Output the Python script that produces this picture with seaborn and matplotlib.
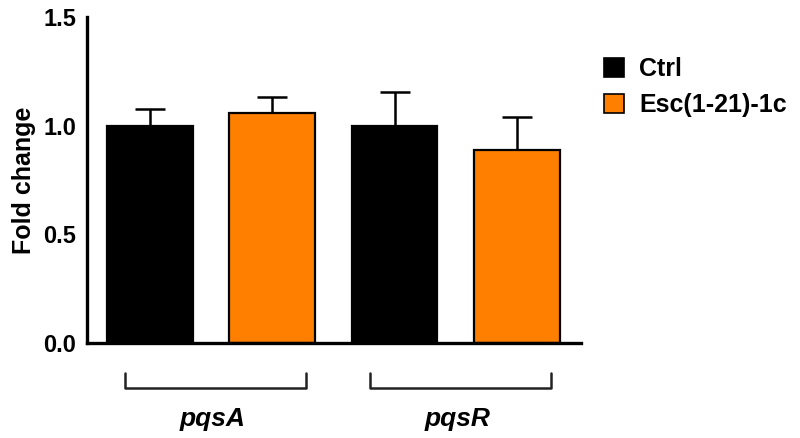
import matplotlib
matplotlib.use("Agg")
import matplotlib.pyplot as plt
import seaborn as sns
import pandas as pd

sns.set_theme(style="white")
plt.rcParams["font.family"] = ["Liberation Sans", "DejaVu Sans"]
plt.rcParams["font.weight"] = "bold"
plt.rcParams["text.color"] = "black"
plt.rcParams["axes.labelcolor"] = "black"

genes = ["pqsA", "pqsA", "pqsR", "pqsR"]
conditions = ["Ctrl", "Esc(1-21)-1c", "Ctrl", "Esc(1-21)-1c"]
fold_change = [1.00, 1.06, 1.00, 0.89]
sem = [0.075, 0.07, 0.155, 0.15]
gene_labels = ["pqsA", "pqsR"]
palette = {"Ctrl": "#000000", "Esc(1-21)-1c": "#ff8000"}

df = pd.DataFrame({
    "slot": [f"{g}_{c}" for g, c in zip(genes, conditions)],
    "condition": conditions,
    "fold": fold_change,
})

fig = plt.figure(figsize=(8, 4.38), dpi=100)
ax = fig.add_axes([0.109, 0.217, 0.617, 0.744])

sns.barplot(
    data=df,
    x="slot",
    y="fold",
    hue="condition",
    palette=palette,
    saturation=1,
    dodge=False,
    width=0.7,
    errorbar=None,
    edgecolor="black",
    linewidth=1.6,
    legend=False,
    ax=ax
)

xs = list(range(len(fold_change)))
ax.errorbar(
    xs, fold_change,
    yerr=[[0] * len(sem), sem],
    fmt="none",
    ecolor="black",
    elinewidth=1.8,
    capsize=11,
    capthick=1.8,
    zorder=0
)

ax.set_xlim(-0.51, 3.52)
ax.set_ylim(0, 1.5)
ax.set_yticks([0, 0.5, 1.0, 1.5])
ax.set_yticklabels(["0.0", "0.5", "1.0", "1.5"], fontsize=17, fontweight="bold")
ax.set_xticks(xs)
ax.set_xticklabels([""] * 4)
ax.set_xlabel("")
ax.set_ylabel("Fold change", fontsize=18, fontweight="bold", labelpad=5)

sns.despine(ax=ax)
for side in ["left", "bottom"]:
    ax.spines[side].set_linewidth(2.4)
    ax.spines[side].set_color("black")
ax.tick_params(axis="y", direction="out", length=6, width=2.2, colors="black", pad=2)
ax.tick_params(axis="x", direction="out", length=5, width=2.2, colors="black")

# group brackets under the axis
for i, label in enumerate(gene_labels):
    left = 2 * i - 0.2
    right = 2 * i + 1.28
    ax.plot(
        [left, left, right, right],
        [-0.139, -0.208, -0.208, -0.139],
        color="#222222",
        linewidth=1.8,
        clip_on=False
    )
    ax.text(
        (left + right) / 2 - 0.03, -0.35, label,
        ha="center", va="center",
        fontsize=19, fontweight="bold", fontstyle="italic",
        color="black"
    )

handles = [
    plt.Rectangle((0, 0), 1, 1, facecolor=palette[c], edgecolor="black", linewidth=1.2)
    for c in ["Ctrl", "Esc(1-21)-1c"]
]
fig.legend(
    handles,
    ["Ctrl", "Esc(1-21)-1c"],
    loc="upper left",
    bbox_to_anchor=(0.743, 0.893),
    frameon=False,
    prop={"size": 18, "weight": "bold"},
    handlelength=0.8,
    handleheight=0.8,
    handletextpad=0.6,
    labelspacing=0.5,
    borderaxespad=0
)

fig.savefig("out.png", dpi=100)
plt.close(fig)
